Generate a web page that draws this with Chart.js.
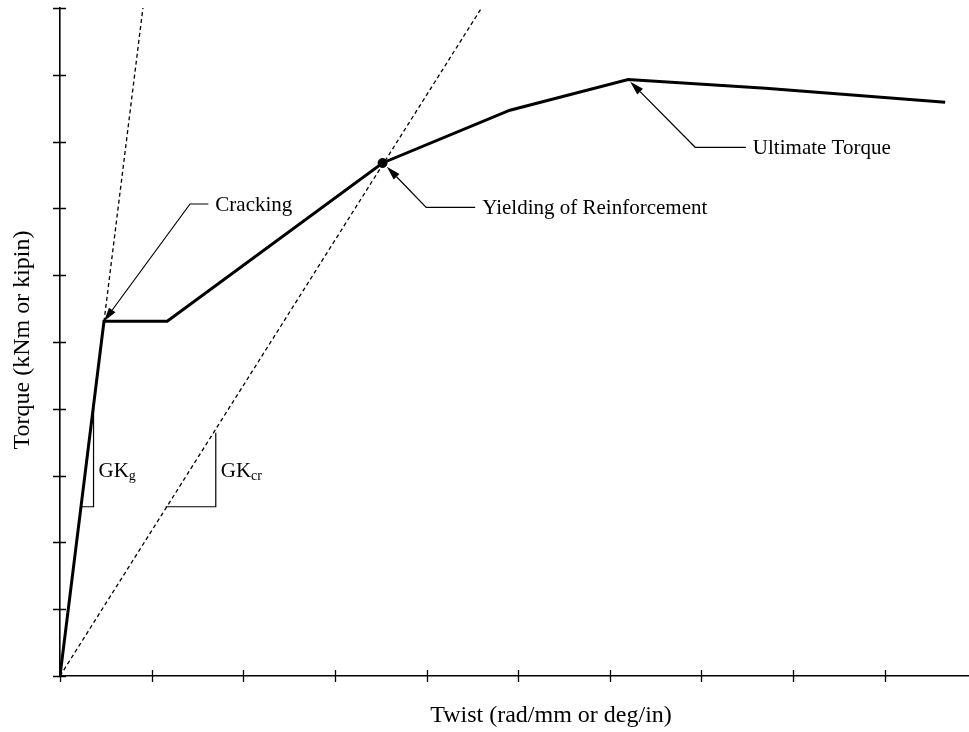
<!DOCTYPE html>
<html>
<head>
<meta charset="utf-8">
<script src="https://cdn.jsdelivr.net/npm/chart.js@4.4.1/dist/chart.umd.min.js"></script>
<style>
  html, body { margin: 0; padding: 0; background: #fff; }
  canvas { display: block; }
</style>
</head>
<body>
<canvas id="chart" width="969" height="732"></canvas>
<script>
// torque-twist response (no numeric units shown on the axes)
const curveTwist  = [0, 0.48, 1.17, 3.52, 4.91, 6.20, 7.70, 9.66];
const curveTorque = [0, 5.31, 5.31, 7.68, 8.47, 8.93, 8.80, 8.59];

// initial (uncracked) and cracked stiffness lines
const gkgTwist  = [0, 0.905];
const gkgTorque = [0, 10];
const gkcrTwist  = [0, 4.60];
const gkcrTorque = [0, 10];

// slope triangles
const gkgTriTwist  = [0.237, 0.366, 0.366];
const gkgTriTorque = [2.534, 2.534, 4.057];
const gkcrTriTwist  = [1.152, 1.700, 1.700];
const gkcrTriTorque = [2.534, 2.534, 3.642];

const yieldPoint = {x: 3.52, y: 7.68};

const xTicks = [0, 1, 2, 3, 4, 5, 6, 7, 8, 9];
const yTicks = [0, 1, 2, 3, 4, 5, 6, 7, 8, 9, 10];

// callouts: arrow tip, elbow, end of horizontal arm (all in data units)
const calloutText  = ['Cracking', 'Yielding of Reinforcement', 'Ultimate Torque'];
const calloutTip   = [[0.48, 5.31], [3.567, 7.625], [6.223, 8.897]];
const calloutElbow = [[1.419, 7.066], [3.996, 7.016], [6.932, 7.915]];
const calloutArmX  = [1.619, 4.531, 7.485];

const slopeLabels = [
    {main: 'GK', sub: 'g', x: 0.366, y: 2.98},
    {main: 'GK', sub: 'cr', x: 1.700, y: 2.98}
];

const serif = '"Liberation Serif", "Times New Roman", serif';

function toPoints(xs, ys) {
    return xs.map((x, i) => ({x: x, y: ys[i]}));
}

function lineSet(xs, ys, width, dash) {
    return {
        data: toPoints(xs, ys),
        showLine: true,
        borderColor: '#000',
        borderWidth: width,
        borderDash: dash || [],
        pointRadius: 0,
        tension: 0
    };
}

const annotate = {
    id: 'annotate',
    afterBuildTicks(chart, args) {
        const scale = args.scale;
        if (scale.id === 'x') scale.ticks = xTicks.map(v => ({value: v}));
        if (scale.id === 'y') scale.ticks = yTicks.map(v => ({value: v}));
    },
    afterDraw(chart) {
        const ctx = chart.ctx;
        const xs = chart.scales.x;
        const ys = chart.scales.y;
        const px = v => xs.getPixelForValue(v);
        const py = v => ys.getPixelForValue(v);
        const area = chart.chartArea;

        ctx.save();
        ctx.strokeStyle = '#000';
        ctx.fillStyle = '#000';

        // tick marks crossing the axes
        ctx.lineWidth = 1.3;
        ctx.beginPath();
        xTicks.forEach(v => {
            const x = Math.round(px(v)) + 0.5;
            ctx.moveTo(x, area.bottom - 6);
            ctx.lineTo(x, area.bottom + 6);
        });
        yTicks.forEach(v => {
            const y = Math.round(py(v)) + 0.5;
            ctx.moveTo(area.left - 7, y);
            ctx.lineTo(area.left + 6, y);
        });
        ctx.stroke();

        // callouts with arrows
        ctx.lineWidth = 1.2;
        ctx.font = '21px ' + serif;
        ctx.textBaseline = 'middle';
        ctx.textAlign = 'left';
        calloutText.forEach((txt, i) => {
            const tx = px(calloutTip[i][0]), ty = py(calloutTip[i][1]);
            const ex = px(calloutElbow[i][0]), ey = py(calloutElbow[i][1]);
            const ax = px(calloutArmX[i]);
            const ang = Math.atan2(ty - ey, tx - ex);
            const len = 14, half = 4;
            const bx = tx - len * Math.cos(ang), by = ty - len * Math.sin(ang);

            ctx.beginPath();
            ctx.moveTo(ax, ey);
            ctx.lineTo(ex, ey);
            ctx.lineTo(bx, by);
            ctx.stroke();

            ctx.beginPath();
            ctx.moveTo(tx, ty);
            ctx.lineTo(bx - half * Math.sin(ang), by + half * Math.cos(ang));
            ctx.lineTo(bx + half * Math.sin(ang), by - half * Math.cos(ang));
            ctx.closePath();
            ctx.fill();

            ctx.fillText(txt, ax + 7, ey + 1);
        });

        // slope labels GKg, GKcr
        ctx.textBaseline = 'alphabetic';
        slopeLabels.forEach(lab => {
            const x = px(lab.x) + 5, y = py(lab.y);
            ctx.font = '21px ' + serif;
            ctx.fillText(lab.main, x, y);
            const w = ctx.measureText(lab.main).width;
            ctx.font = '14px ' + serif;
            ctx.fillText(lab.sub, x + w, y + 3);
        });

        // axis titles
        ctx.font = '24px ' + serif;
        ctx.textAlign = 'center';
        ctx.textBaseline = 'middle';
        ctx.fillText('Twist (rad/mm or deg/in)', 551, 716);
        ctx.translate(23, 340);
        ctx.rotate(-Math.PI / 2);
        ctx.fillText('Torque (kNm or kipin)', 0, 0);
        ctx.restore();
    }
};

new Chart(document.getElementById('chart'), {
    type: 'scatter',
    data: {
        datasets: [
            {
                data: [yieldPoint],
                pointRadius: 4.5,
                pointBackgroundColor: '#000',
                pointBorderColor: '#000',
                showLine: false
            },
            lineSet(curveTwist, curveTorque, 3),
            lineSet(gkgTwist, gkgTorque, 1.3, [4, 3]),
            lineSet(gkcrTwist, gkcrTorque, 1.3, [4, 3]),
            lineSet(gkgTriTwist, gkgTriTorque, 1.2),
            lineSet(gkcrTriTwist, gkcrTriTorque, 1.2)
        ]
    },
    options: {
        responsive: false,
        animation: false,
        layout: {autoPadding: false, padding: {left: 60, right: 0, top: 8, bottom: 56}},
        plugins: {legend: {display: false}, tooltip: {enabled: false}},
        scales: {
            x: {
                type: 'linear',
                min: 0,
                max: 9.92,
                ticks: {display: false},
                grid: {display: false, drawTicks: false},
                border: {display: true, color: '#000', width: 1.6}
            },
            y: {
                type: 'linear',
                min: 0,
                max: 10,
                ticks: {display: false},
                grid: {display: false, drawTicks: false},
                border: {display: true, color: '#000', width: 1.6}
            }
        }
    },
    plugins: [annotate]
});
</script>
</body>
</html>
